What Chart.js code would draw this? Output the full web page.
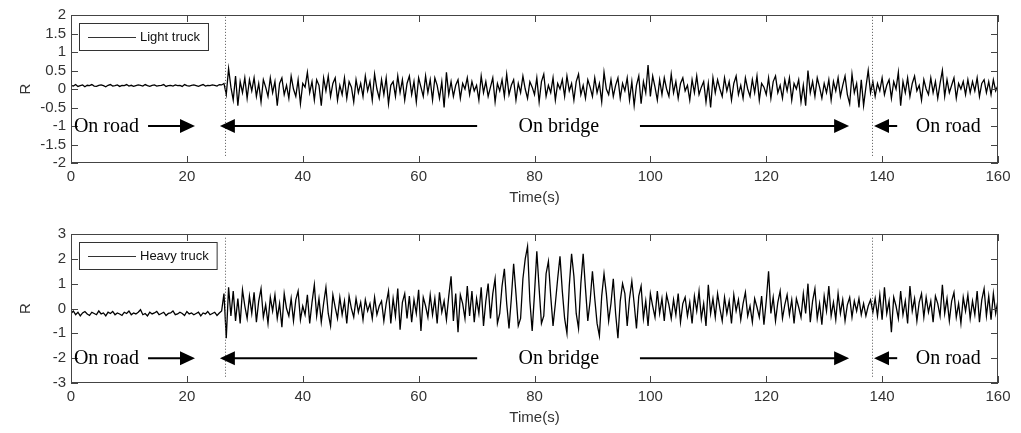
<!DOCTYPE html>
<html>
<head>
<meta charset="utf-8">
<script src="https://cdn.jsdelivr.net/npm/chart.js@4.4.1/dist/chart.umd.min.js"></script>
<style>
body { margin: 0; background: #fff; width: 1021px; height: 433px; overflow: hidden; }
.panel { position: absolute; left: 0; width: 1021px; }
</style>
</head>
<body>
<div class="panel" style="top:0;height:216px"><canvas id="light"></canvas></div>
<div class="panel" style="top:216px;height:217px"><canvas id="heavy"></canvas></div>
<script>
// sampling step of the traces (s)
var step = 0.4;
var xTicks = [0, 20, 40, 60, 80, 100, 120, 140, 160];
var lightTicks = [-2, -1.5, -1, -0.5, 0, 0.5, 1, 1.5, 2];
var heavyTicks = [-3, -2, -1, 0, 1, 2, 3];
// vehicle enters / leaves the bridge (s)
var crossings = [26.6, 138.2];

// light truck, 0 - 26.4 s, on road
var lightRoad = [
  0.10,0.08,0.12,0.07,0.09,0.11,0.06,0.10,0.09,0.12,
  0.08,0.07,0.10,0.11,0.09,0.06,0.10,0.12,0.08,0.09,
  0.11,0.07,0.10,0.09,0.12,0.08,0.10,0.07,0.09,0.11,
  0.10,0.08,0.12,0.09,0.07,0.10,0.11,0.08,0.09,0.10,
  0.12,0.07,0.09,0.10,0.08,0.11,0.09,0.10,0.07,0.12,
  0.09,0.08,0.10,0.11,0.09,0.07,0.10,0.12,0.08,0.10,
  0.09,0.11,0.10,0.08,0.12,0.11,0.15
];
// light truck, 26.8 - 160 s
var lightBridge = [
  -0.15,0.55,0.05,-0.30,0.35,-0.45,0.20,-0.10,0.30,-0.25,
  0.25,-0.05,0.30,-0.20,0.15,-0.35,0.25,0.05,-0.20,0.30,
  -0.10,0.20,-0.45,0.15,0.30,-0.15,0.10,-0.25,0.35,0.00,
  -0.20,0.25,-0.40,0.15,0.05,0.45,-0.10,0.20,-0.30,0.25,
  0.10,-0.45,0.30,-0.05,0.35,-0.20,0.15,0.30,-0.30,0.10,
  -0.15,0.30,-0.25,0.20,0.05,-0.35,0.25,-0.10,0.15,-0.20,
  0.35,-0.05,0.20,-0.30,0.40,0.00,-0.25,0.25,-0.15,0.30,
  -0.40,0.10,0.20,-0.20,0.35,-0.10,0.25,-0.30,0.15,0.35,
  -0.15,0.20,-0.35,0.30,0.05,-0.20,0.35,-0.10,0.25,-0.30,
  0.30,0.10,-0.25,0.20,-0.50,0.45,-0.15,0.20,-0.20,0.10,
  0.25,-0.25,0.15,0.00,0.30,-0.15,0.20,-0.05,0.10,-0.30,
  0.35,-0.10,0.20,-0.20,0.05,0.30,-0.35,0.15,-0.05,0.25,
  -0.20,0.40,-0.15,0.10,0.25,-0.30,0.15,-0.10,0.35,0.00,
  -0.25,0.20,0.05,-0.15,0.30,-0.35,0.20,0.40,-0.20,0.10,
  -0.10,0.30,-0.30,0.15,0.00,0.25,-0.20,0.35,-0.05,0.15,
  -0.30,0.20,0.40,-0.15,0.10,-0.25,0.25,0.05,-0.20,0.30,
  -0.10,0.15,-0.35,0.45,0.00,-0.15,0.25,-0.20,0.10,0.30,
  -0.25,0.15,-0.05,0.30,-0.30,0.20,-0.45,0.10,0.35,-0.40,
  0.20,-0.10,0.65,-0.20,0.35,0.05,-0.30,0.25,-0.15,0.30,
  0.00,-0.20,0.40,-0.10,0.20,-0.25,0.15,0.30,-0.05,0.10,
  -0.30,0.25,-0.10,0.35,-0.15,0.05,0.20,-0.35,0.15,-0.50,
  0.30,-0.10,0.25,0.00,-0.20,0.30,-0.05,0.20,-0.30,0.15,
  0.35,-0.15,0.10,-0.25,0.30,0.00,-0.20,0.25,-0.10,0.35,
  -0.30,0.15,0.05,-0.15,0.30,-0.25,0.20,0.35,-0.10,0.10,
  -0.25,0.25,-0.05,0.30,-0.30,0.15,0.00,0.25,-0.35,0.10,
  -0.45,0.50,-0.10,0.20,-0.20,0.30,0.05,-0.25,0.15,-0.10,
  0.25,-0.30,0.20,-0.05,0.30,-0.20,0.10,0.35,-0.15,-0.40,
  0.40,-0.10,0.15,-0.50,0.25,-0.45,0.05,0.50,-0.10,0.20,
  -0.20,0.15,-0.05,0.30,-0.15,0.10,0.25,-0.25,0.20,0.00,
  0.45,-0.45,0.20,-0.10,0.30,-0.20,0.15,0.35,-0.05,0.10,
  -0.30,0.25,0.00,-0.15,0.30,-0.10,0.20,-0.25,0.15,0.50,
  -0.20,0.25,-0.10,0.10,0.30,-0.25,0.15,0.00,0.20,-0.15,
  0.25,-0.10,0.20,-0.05,0.30,-0.20,0.15,0.25,-0.10,0.20,
  -0.15,0.25,-0.05,0.10
];

// heavy truck, 0 - 26.4 s, on road
var heavyRoad = [
  -0.20,-0.10,-0.25,-0.15,-0.30,-0.18,-0.12,-0.22,-0.28,-0.15,
  -0.20,-0.25,-0.10,-0.22,-0.18,-0.30,-0.15,-0.20,-0.12,-0.25,
  -0.18,-0.22,-0.28,-0.15,-0.20,-0.10,-0.25,-0.18,-0.22,-0.15,
  -0.05,-0.25,-0.20,-0.30,-0.15,-0.22,-0.18,-0.12,-0.25,-0.20,
  -0.15,-0.28,-0.20,-0.18,-0.10,-0.25,-0.22,-0.15,-0.20,-0.28,
  -0.12,-0.22,-0.18,-0.25,-0.20,-0.15,-0.30,-0.18,-0.22,-0.12,
  -0.25,-0.20,-0.15,-0.28,-0.18,-0.10,0.60
];
// heavy truck, 26.8 - 160 s
var heavyBridge = [
  -1.20,0.85,-0.30,0.70,-0.50,0.40,-0.60,0.75,0.10,-0.40,
  0.50,-0.20,0.65,-0.55,0.30,0.80,-0.35,0.15,-0.60,0.45,
  -0.10,0.55,-0.40,0.20,-0.75,0.60,0.00,-0.30,0.40,-0.50,
  0.35,0.70,-0.45,0.10,-0.25,0.55,-0.60,0.25,0.95,-0.30,
  0.40,-0.55,0.20,0.85,-0.20,-0.70,0.55,0.05,-0.40,0.45,
  -0.25,0.30,-0.60,0.50,0.00,-0.35,0.40,-0.15,0.25,-0.45,
  0.35,-0.10,0.20,-0.40,0.45,-0.25,0.10,0.30,-0.50,0.20,
  0.70,-0.60,0.40,-0.30,0.80,-0.85,0.25,0.60,-0.40,0.50,
  -0.55,0.35,-0.20,0.75,-0.90,0.45,0.10,-0.35,0.55,-0.25,
  0.40,-0.60,0.65,-0.15,0.30,-0.45,0.50,1.30,-0.50,0.60,
  -0.95,0.55,0.20,-0.40,0.90,-0.30,0.70,-0.55,0.40,-0.20,
  0.85,-0.70,0.30,1.00,-0.40,0.60,1.20,-0.60,-0.20,0.90,
  1.60,0.20,-0.80,0.40,1.80,0.60,-0.70,-0.40,1.20,2.00,
  2.50,0.30,-0.90,0.60,2.30,0.80,-0.60,-0.30,1.40,1.90,
  0.50,-0.70,0.20,1.20,2.10,0.70,-0.40,-1.00,0.90,2.20,
  1.30,-0.20,-0.80,1.00,2.20,0.80,-0.50,0.30,1.50,0.40,
  -0.60,-1.10,0.50,1.40,0.60,-0.50,0.20,1.20,-0.20,-1.20,
  0.30,1.00,0.60,-0.70,0.40,1.10,0.20,-0.80,0.50,0.90,
  -0.40,0.30,-0.70,0.60,0.10,-0.35,0.70,-0.20,0.40,-0.50,
  0.55,0.15,-0.40,0.35,-0.25,0.60,-0.55,0.20,0.45,-0.30,
  0.25,-0.60,0.50,-0.10,0.70,-0.40,0.20,-0.70,0.95,-0.20,
  0.40,-0.35,0.60,0.00,-0.50,0.45,-0.20,0.30,-0.60,0.55,
  -0.10,0.35,-0.45,0.20,0.65,-0.30,0.10,-0.55,0.40,0.05,
  -0.35,0.50,-0.65,0.30,1.50,-0.20,0.45,-0.50,0.25,0.70,
  -0.40,0.15,0.55,-0.25,0.35,-0.60,0.40,0.05,-0.35,0.60,
  -0.20,1.00,-0.55,0.30,0.80,-0.40,0.20,-0.65,0.50,-0.10,
  0.90,-0.30,0.25,-0.45,0.60,-0.20,0.35,-0.50,0.15,0.45,
  -0.35,0.30,-0.10,0.40,-0.25,0.20,-0.30,0.10,0.35,-0.15,
  0.40,-0.30,0.55,-0.45,0.85,-0.20,0.30,-0.95,0.45,0.10,
  -0.40,0.70,-0.25,0.30,-0.60,0.90,-0.10,0.40,-0.50,0.25,
  0.60,-0.35,0.45,-0.15,0.30,-0.55,0.50,0.20,-0.30,0.95,
  -0.20,0.40,-0.50,0.30,0.65,-0.35,0.20,-0.60,0.45,-0.10,
  0.55,-0.40,0.30,-0.25,0.70,-0.55,0.35,0.80,-0.30,0.50,
  -0.45,0.60,-0.20,0.35
];

function toPoints(values) {
  return values.map(function(v, i) {
    return { x: Math.round(i * step * 10) / 10, y: v };
  });
}

function arrow(ctx, x0, x1, y) {
  // shaft from x0 to the tip at x1
  var dir = x1 > x0 ? 1 : -1;
  ctx.beginPath();
  ctx.moveTo(x0, y);
  ctx.lineTo(x1 - dir * 12, y);
  ctx.stroke();
  ctx.beginPath();
  ctx.moveTo(x1, y);
  ctx.lineTo(x1 - dir * 15, y - 7);
  ctx.lineTo(x1 - dir * 15, y + 7);
  ctx.closePath();
  ctx.fill();
}

var framePlugin = {
  id: 'frame',
  afterDatasetsDraw: function(chart, args, opts) {
    var ctx = chart.ctx, a = chart.chartArea;
    var xs = chart.scales.x, ys = chart.scales.y;
    ctx.save();

    // dotted lines where the truck enters / leaves the bridge
    ctx.strokeStyle = '#555';
    ctx.lineWidth = 1;
    ctx.setLineDash([1, 2]);
    crossings.forEach(function(t) {
      var px = Math.round(xs.getPixelForValue(t)) + 0.5;
      ctx.beginPath();
      ctx.moveTo(px, ys.getPixelForValue(opts.dotFrom));
      ctx.lineTo(px, ys.getPixelForValue(opts.dotTo));
      ctx.stroke();
    });
    ctx.setLineDash([]);

    // axes box with inward ticks on all sides
    ctx.strokeStyle = '#444';
    ctx.strokeRect(a.left + 0.5, a.top + 0.5, a.right - a.left - 1, a.bottom - a.top - 1);
    ctx.beginPath();
    xs.ticks.forEach(function(t) {
      var px = Math.round(xs.getPixelForValue(t.value)) + 0.5;
      ctx.moveTo(px, a.top); ctx.lineTo(px, a.top + 7);
      ctx.moveTo(px, a.bottom); ctx.lineTo(px, a.bottom - 7);
    });
    ys.ticks.forEach(function(t) {
      var py = Math.round(ys.getPixelForValue(t.value)) + 0.5;
      ctx.moveTo(a.left, py); ctx.lineTo(a.left + 7, py);
      ctx.moveTo(a.right, py); ctx.lineTo(a.right - 7, py);
    });
    ctx.stroke();

    // region annotations
    var y = ys.getPixelForValue(opts.annoY);
    ctx.fillStyle = '#000';
    ctx.strokeStyle = '#000';
    ctx.lineWidth = 2;
    ctx.font = '20px "Liberation Serif", "Times New Roman", serif';
    ctx.textBaseline = 'middle';
    ctx.textAlign = 'left';
    ctx.fillText('On road', xs.getPixelForValue(0.5), y + 1);
    ctx.textAlign = 'center';
    ctx.fillText('On bridge', xs.getPixelForValue(84.2), y + 1);
    ctx.fillText('On road', xs.getPixelForValue(151.4), y + 1);
    arrow(ctx, xs.getPixelForValue(13.3), xs.getPixelForValue(21.4), y);
    arrow(ctx, xs.getPixelForValue(70.1), xs.getPixelForValue(25.7), y);
    arrow(ctx, xs.getPixelForValue(98.2), xs.getPixelForValue(134.3), y);
    arrow(ctx, xs.getPixelForValue(142.6), xs.getPixelForValue(138.6), y);

    // legend box, top left
    var label = chart.data.datasets[0].label;
    ctx.font = '13px "Liberation Sans", Arial, sans-serif';
    var w = 8 + 48 + 5 + ctx.measureText(label).width + 8;
    var lx = a.left + 8, ly = a.top + 8, lh = 27;
    ctx.fillStyle = '#fff';
    ctx.fillRect(lx, ly, w, lh);
    ctx.strokeStyle = '#333';
    ctx.lineWidth = 1;
    ctx.strokeRect(lx + 0.5, ly + 0.5, w, lh);
    ctx.beginPath();
    ctx.moveTo(lx + 9, ly + 14.5);
    ctx.lineTo(lx + 57, ly + 14.5);
    ctx.stroke();
    ctx.fillStyle = '#111';
    ctx.textAlign = 'left';
    ctx.fillText(label, lx + 61, ly + 14);
    ctx.restore();
  }
};

function makeChart(id, label, values, yTicks, opts, padTop, padBottom) {
  var tickFont = { family: '"Liberation Sans", Arial, sans-serif', size: 15 };
  return new Chart(document.getElementById(id), {
    type: 'line',
    data: {
      datasets: [{
        label: label,
        data: toPoints(values),
        borderColor: '#000',
        borderWidth: 1.3,
        pointRadius: 0,
        tension: 0,
        fill: false
      }]
    },
    options: {
      responsive: true,
      maintainAspectRatio: false,
      animation: false,
      events: [],
      layout: { padding: { top: padTop, bottom: padBottom, left: 0, right: 23 } },
      plugins: {
        legend: { display: false },
        tooltip: { enabled: false },
        frame: opts
      },
      scales: {
        x: {
          type: 'linear',
          min: 0, max: 160,
          afterBuildTicks: function(s) { s.ticks = xTicks.map(function(v) { return { value: v }; }); },
          afterFit: function(s) { s.height = 49; },
          grid: { display: false, drawTicks: false },
          border: { display: false },
          ticks: { color: '#333', font: tickFont, padding: 5, maxRotation: 0, autoSkip: false,
                   callback: function(v) { return String(v); } },
          title: { display: true, text: 'Time(s)', color: '#333',
                   font: { family: '"Liberation Sans", Arial, sans-serif', size: 15 },
                   padding: { top: 0, bottom: 5 } }
        },
        y: {
          min: yTicks[0], max: yTicks[yTicks.length - 1],
          afterBuildTicks: function(s) { s.ticks = yTicks.map(function(v) { return { value: v }; }); },
          afterFit: function(s) { s.width = 71; },
          grid: { display: false, drawTicks: false },
          border: { display: false },
          ticks: { color: '#333', font: tickFont, padding: 5, autoSkip: false,
                   callback: function(v) { return String(v); } },
          title: { display: true, text: 'R', color: '#333',
                   font: { family: '"Liberation Sans", Arial, sans-serif', size: 15 },
                   padding: { top: 17, bottom: 0 } }
        }
      }
    },
    plugins: [framePlugin]
  });
}

makeChart('light', 'Light truck', lightRoad.concat(lightBridge), lightTicks,
  { annoY: -1, dotFrom: 1.95, dotTo: -1.85 }, 15, 4);
makeChart('heavy', 'Heavy truck', heavyRoad.concat(heavyBridge), heavyTicks,
  { annoY: -2, dotFrom: 2.85, dotTo: -2.8 }, 18, 1);
</script>
</body>
</html>
